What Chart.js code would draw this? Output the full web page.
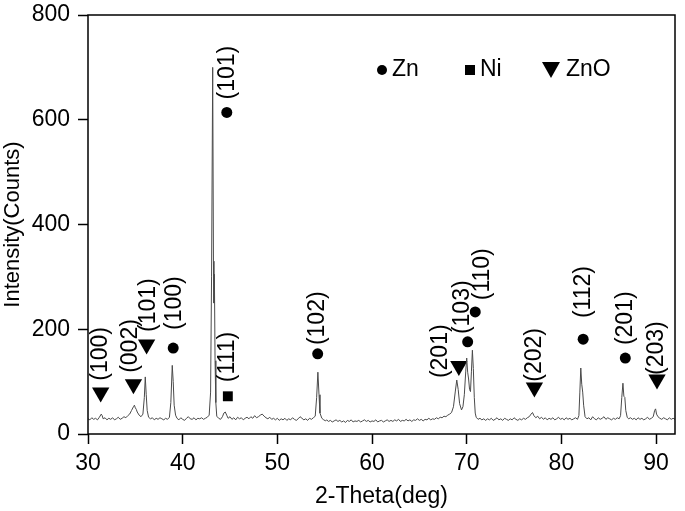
<!DOCTYPE html>
<html>
<head>
<meta charset="utf-8">
<script src="https://cdn.jsdelivr.net/npm/chart.js@4.4.1/dist/chart.umd.min.js"></script>
<style>
  body { margin: 0; background: #fff; }
  canvas { display: block; }
</style>
</head>
<body>
<canvas id="xrd" width="685" height="511"></canvas>
<script>
// XRD pattern
var twoTheta = [
  30.0, 30.2, 30.4, 30.6, 30.8, 31.0, 31.2, 31.4, 31.5, 31.6, 31.8, 32.0, 32.2, 32.4, 32.6, 32.8, 33.0, 33.2, 33.4, 33.6, 33.8,
  34.0, 34.2, 34.4, 34.6, 34.8, 34.9, 35.0, 35.1, 35.2, 35.4, 35.6, 35.8, 35.95, 36.05, 36.15, 36.25, 36.4, 36.6, 36.8,
  37.0, 37.2, 37.4, 37.6, 37.8, 38.0, 38.2, 38.4, 38.6, 38.75, 38.9, 39.0, 39.1, 39.25, 39.4, 39.6, 39.8,
  40.0, 40.2, 40.4, 40.6, 40.8, 41.0, 41.2, 41.4, 41.6, 41.8, 42.0, 42.2, 42.4, 42.6, 42.8, 42.95, 43.05, 43.17, 43.25, 43.3, 43.35, 43.42, 43.5, 43.6, 43.8,
  44.0, 44.2, 44.35, 44.5, 44.65, 44.8, 45.0, 45.2, 45.4, 45.6, 45.8, 46.0, 46.2, 46.4, 46.6, 46.8, 47.0, 47.2, 47.4, 47.6, 47.8,
  48.0, 48.2, 48.4, 48.6, 48.8, 49.0, 49.2, 49.4, 49.6, 49.8, 50.0, 50.2, 50.4, 50.6, 50.8, 51.0, 51.2, 51.4, 51.6, 51.8,
  52.0, 52.2, 52.4, 52.6, 52.8, 53.0, 53.2, 53.4, 53.6, 53.8, 54.0, 54.15, 54.28, 54.4, 54.5, 54.7, 54.9, 55.1, 55.2, 55.4, 55.6, 55.8,
  56.0, 56.2, 56.4, 56.6, 56.8, 57.0, 57.2, 57.4, 57.6, 57.8, 58.0, 58.2, 58.4, 58.6, 58.8, 59.0, 59.2, 59.4, 59.6, 59.8,
  60.0, 60.2, 60.4, 60.6, 60.8, 61.0, 61.2, 61.4, 61.6, 61.8, 62.0, 62.2, 62.4, 62.6, 62.8, 63.0, 63.2, 63.4, 63.6, 63.8,
  64.0, 64.2, 64.4, 64.6, 64.8, 65.0, 65.2, 65.4, 65.6, 65.8, 66.0, 66.2, 66.4, 66.6, 66.8, 67.0, 67.2, 67.4, 67.6, 67.8,
  68.0, 68.2, 68.4, 68.6, 68.8, 68.95, 69.1, 69.25, 69.45, 69.6, 69.75, 69.9, 70.0, 70.1, 70.2, 70.3, 70.4, 70.5, 70.6, 70.7, 70.8, 70.9,
  71.0, 71.2, 71.4, 71.6, 71.8, 72.0, 72.2, 72.4, 72.6, 72.8, 73.0, 73.2, 73.4, 73.6, 73.8, 74.0, 74.2, 74.4, 74.6, 74.8,
  75.0, 75.2, 75.4, 75.6, 75.8, 76.0, 76.2, 76.4, 76.6, 76.8, 76.95, 77.1, 77.3, 77.5, 77.7, 77.9, 78.1, 78.3, 78.5, 78.7, 78.9,
  79.1, 79.3, 79.5, 79.7, 79.9, 80.1, 80.3, 80.5, 80.7, 80.9, 81.1, 81.3, 81.5, 81.7, 81.85, 81.95, 82.05, 82.15, 82.25, 82.35, 82.5, 82.7, 82.9,
  83.1, 83.3, 83.5, 83.7, 83.9, 84.1, 84.3, 84.5, 84.7, 84.9, 85.1, 85.3, 85.5, 85.7, 85.9, 86.1, 86.25, 86.38, 86.5, 86.6, 86.7, 86.8, 86.95,
  87.1, 87.3, 87.5, 87.7, 87.9, 88.1, 88.3, 88.5, 88.7, 88.9, 89.1, 89.3, 89.5, 89.7, 89.85, 89.95, 90.05, 90.2, 90.4, 90.6, 90.8,
  91.0, 91.2, 91.4, 91.6, 91.8, 92.0
];
var counts = [
  29, 27, 31, 28, 30, 27, 32, 38, 35, 29, 31, 27, 30, 28, 31, 27, 29, 32, 28, 30, 33,
  31, 35, 38, 45, 52, 55, 50, 47, 42, 36, 33, 38, 70, 109, 75, 45, 32, 29, 31,
  27, 30, 28, 31, 29, 27, 30, 28, 32, 60, 131, 100, 55, 36, 30, 27, 31,
  28, 26, 30, 33, 29, 28, 31, 27, 30, 29, 31, 28, 30, 32, 36, 80, 300, 700, 330, 250, 305, 140, 60, 34, 30,
  28, 33, 40, 42, 36, 30, 33, 28, 31, 27, 32, 29, 31, 27, 30, 32, 29, 33, 30, 35, 31,
  33, 36, 38, 34, 31, 29, 32, 28, 30, 27, 30, 26, 29, 27, 30, 26, 29, 27, 31, 28,
  26, 29, 33, 30, 27, 29, 26, 30, 28, 31, 34, 70, 118, 75, 40, 30, 27, 25, 27, 24, 26, 23,
  25, 27, 24, 26, 23, 25, 22, 26, 24, 27, 23, 25, 24, 26, 23, 25, 27, 24, 26, 23,
  25, 24, 27, 23, 25, 26, 23, 25, 27, 24, 26, 24, 27, 25, 28, 24, 26, 25, 28, 25,
  27, 24, 27, 26, 29, 26, 28, 25, 28, 27, 30, 27, 29, 28, 31, 29, 32, 31, 34, 33,
  36, 38, 41, 52, 82, 103, 85, 58, 46, 52, 75, 120, 145, 118, 105, 85, 81, 120, 160, 125, 70, 40,
  32, 28, 30, 27, 29, 26, 29, 27, 30, 26, 28, 31, 27, 29, 26, 30, 28, 26, 29, 27,
  31, 28, 26, 29, 27, 30, 28, 31, 33, 38, 41, 35, 31, 34, 29, 32, 28, 31, 27, 30, 28,
  31, 27, 29, 32, 28, 30, 27, 31, 28, 30, 27, 29, 31, 28, 35, 80, 126, 95, 80, 55, 33, 29, 31,
  27, 33, 29, 27, 31, 28, 30, 33, 28, 31, 29, 27, 30, 28, 31, 29, 35, 70, 97, 72, 70, 45, 32,
  29, 31, 28, 30, 27, 31, 28, 30, 27, 29, 32, 28, 30, 33, 45, 48, 38, 33, 30, 28, 31,
  29, 27, 31, 28, 30, 28
];

// phase markers: [2theta, counts] and their (hkl)
var znX = [39.0, 44.66, 54.26, 70.1, 70.9, 82.3, 86.75];
var znY = [164, 614, 153, 176, 233, 181, 145];
var znHkl = ['(100)', '(101)', '(102)', '(103)', '(110)', '(112)', '(201)'];
var znLabelX = [39.2, 44.77, 54.26, 69.6, 71.7, 82.3, 86.75];
var znLabelY = [250, 690, 221, 242, 305, 271, 221];

var niX = [44.77];
var niY = [72];
var niHkl = ['(111)'];
var niLabelX = [44.77];
var niLabelY = [147];

var znoX = [31.34, 34.8, 36.19, 69.17, 77.15, 90.1];
var znoY = [79, 95, 171, 130, 89, 104];
var znoHkl = ['(100)', '(002)', '(101)', '(201)', '(202)', '(203)'];
var znoLabelX = [31.34, 34.5, 36.36, 67.3, 77.15, 90.1];
var znoLabelY = [153, 168, 246, 158, 151, 164];

var xTicks = [30, 40, 50, 60, 70, 80, 90];

function pts(xs, ys) {
  return xs.map(function (x, i) { return { x: x, y: ys[i] }; });
}

var FONT = '"Liberation Sans", Arial, sans-serif';

var annotate = {
  id: 'annotate',
  afterDatasetsDraw: function (chart) {
    var ctx = chart.ctx;
    var xs = chart.scales.x, ys = chart.scales.y;
    var area = chart.chartArea;

    // frame
    ctx.save();
    ctx.strokeStyle = '#000';
    ctx.lineWidth = 1.5;
    ctx.strokeRect(area.left, area.top, area.right - area.left, area.bottom - area.top);
    ctx.restore();

    // rotated (hkl) labels
    function labels(hkl, lx, ly) {
      hkl.forEach(function (t, i) {
        ctx.save();
        ctx.translate(xs.getPixelForValue(lx[i]), ys.getPixelForValue(ly[i]));
        ctx.rotate(-Math.PI / 2);
        ctx.font = '23px ' + FONT;
        ctx.fillStyle = '#000';
        ctx.textAlign = 'center';
        ctx.textBaseline = 'middle';
        ctx.fillText(t, 0, 0);
        ctx.restore();
      });
    }
    labels(znHkl, znLabelX, znLabelY);
    labels(niHkl, niLabelX, niLabelY);
    labels(znoHkl, znoLabelX, znoLabelY);

    // legend box
    ctx.save();
    ctx.fillStyle = '#000';
    ctx.font = '23px ' + FONT;
    ctx.textBaseline = 'middle';
    var ly = 70;
    ctx.beginPath();
    ctx.arc(382, ly, 5, 0, Math.PI * 2);
    ctx.fill();
    ctx.fillText('Zn', 392, ly);
    ctx.fillRect(465, ly - 5, 10, 10);
    ctx.fillText('Ni', 480, ly);
    ctx.beginPath();
    ctx.moveTo(542, ly - 8);
    ctx.lineTo(560, ly - 8);
    ctx.lineTo(551, ly + 8);
    ctx.closePath();
    ctx.fill();
    ctx.fillText('ZnO', 566, ly);
    ctx.restore();
  }
};

new Chart(document.getElementById('xrd'), {
  type: 'scatter',
  data: {
    datasets: [
      {
        label: 'XRD',
        data: pts(twoTheta, counts),
        showLine: true,
        borderColor: '#4a4a4a',
        borderWidth: 1,
        pointRadius: 0,
        tension: 0
      },
      {
        label: 'Zn',
        data: pts(znX, znY),
        pointStyle: 'circle',
        pointRadius: 5.5,
        backgroundColor: '#000',
        borderColor: '#000',
        borderWidth: 0
      },
      {
        label: 'Ni',
        data: pts(niX, niY),
        pointStyle: 'rect',
        pointRadius: 7,
        backgroundColor: '#000',
        borderColor: '#000',
        borderWidth: 0
      },
      {
        label: 'ZnO',
        data: pts(znoX, znoY),
        pointStyle: 'triangle',
        rotation: 180,
        pointRadius: 10,
        backgroundColor: '#000',
        borderColor: '#000',
        borderWidth: 0
      }
    ]
  },
  options: {
    responsive: false,
    animation: false,
    devicePixelRatio: 1,
    layout: { padding: { top: 15, right: 7, left: 0, bottom: 0 } },
    plugins: {
      legend: { display: false },
      tooltip: { enabled: false }
    },
    scales: {
      x: {
        type: 'linear',
        min: 30,
        max: 92,
        afterFit: function (s) { s.height = 77; s.paddingLeft = 0; s.paddingRight = 0; },
        afterBuildTicks: function (s) { s.ticks = xTicks.map(function (v) { return { value: v }; }); },
        grid: { display: true, drawOnChartArea: false, drawTicks: true, tickLength: 10, tickColor: '#000', tickWidth: 1.5 },
        border: { display: false },
        ticks: { color: '#000', font: { family: FONT, size: 23 }, padding: 6, maxRotation: 0 },
        title: { display: true, text: '2-Theta(deg)', color: '#000', font: { family: FONT, size: 23 }, padding: { top: 0, bottom: 1 } }
      },
      y: {
        min: 0,
        max: 800,
        afterFit: function (s) { s.width = 88; s.paddingTop = 0; s.paddingBottom = 0; },
        ticks: { stepSize: 200, color: '#000', font: { family: FONT, size: 23 }, padding: 8 },
        grid: { display: true, drawOnChartArea: false, drawTicks: true, tickLength: 10, tickColor: '#000', tickWidth: 1.5 },
        border: { display: false },
        title: { display: true, text: 'Intensity(Counts)', color: '#000', font: { family: FONT, size: 22 }, padding: { top: 0, bottom: 0 } }
      }
    }
  },
  plugins: [annotate]
});
</script>
</body>
</html>
